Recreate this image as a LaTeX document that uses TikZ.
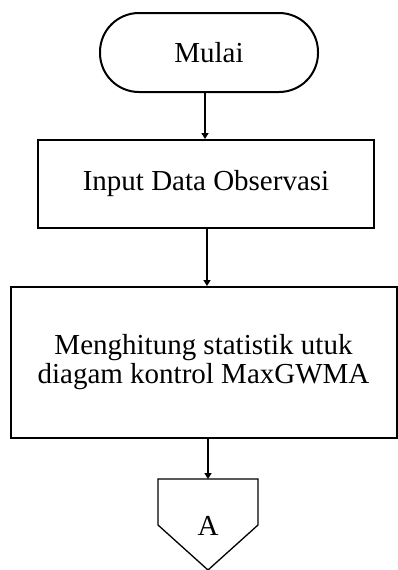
\documentclass[tikz,border=0pt]{standalone}
\usepackage{fontspec}
\setmainfont{Liberation Serif}
\usetikzlibrary{arrows.meta,calc}
\begin{document}
\begin{tikzpicture}[x=1pt,y=-1pt,
  every node/.style={font=\fontsize{29}{30}\selectfont, inner sep=0pt, align=center},
  frame/.style={draw, line width=2pt, rectangle},
  flow/.style={line width=2pt, -{Triangle[width=7pt,length=6pt]}},
  conn/.style={draw, line width=1.3pt, line join=miter}]
\useasboundingbox (0,0) rectangle (398,570);
\node[frame, rounded corners=39pt, minimum width=218pt, minimum height=79pt] (term) at (209,52.5) {Mulai};
\node[frame, minimum width=336pt, minimum height=88pt] (inp) at (206,184) {Input Data Observasi};
\node[frame, minimum width=386pt, minimum height=151pt] (calc) at (203.5,362.5) {Menghitung statistik utuk\\[-1pt]diagam kontrol MaxGWMA};
\node (A) at (208,526) {A};
\coordinate (ptop) at (208,479);
\draw[conn] (158,479) -- (258,479) -- (258,525) -- (208,570) -- (158,525) -- cycle;
\draw[flow] (term.south -| 205,0) -- (inp.north -| 205,0);
\draw[flow] (inp.south -| 207,0) -- (calc.north -| 207,0);
\draw[flow] (calc.south -| ptop) -- (ptop);
\end{tikzpicture}
\end{document}
